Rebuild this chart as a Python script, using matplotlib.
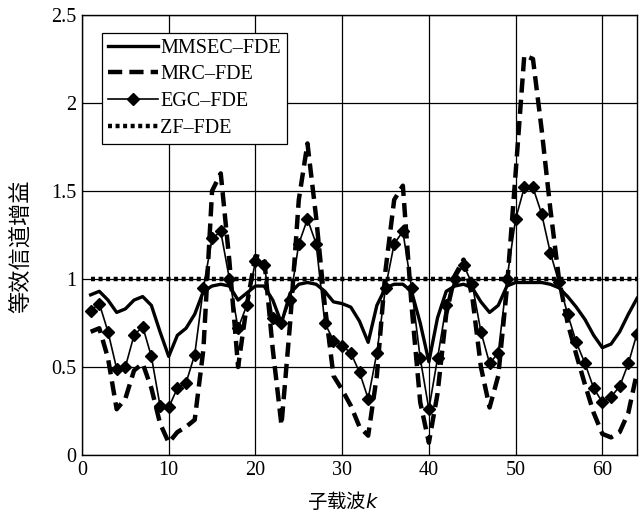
import numpy as np
import matplotlib
matplotlib.use('Agg')
import matplotlib.pyplot as plt
from matplotlib.ticker import FuncFormatter

# subcarrier index
k = np.arange(1, 65)

# equivalent channel gain
mmse = [0.91, 0.93, 0.88, 0.81, 0.83, 0.88, 0.90, 0.85, 0.70, 0.56,
        0.68, 0.72, 0.80, 0.93, 0.96, 0.97, 0.96, 0.88, 0.92, 0.96,
        0.96, 0.88, 0.75, 0.92, 0.97, 0.98, 0.97, 0.93, 0.87, 0.86,
        0.84, 0.76, 0.64, 0.85, 0.95, 0.97, 0.97, 0.93, 0.75, 0.53,
        0.78, 0.93, 0.96, 0.97, 0.95, 0.87, 0.81, 0.85, 0.96, 0.98,
        0.98, 0.98, 0.98, 0.97, 0.95, 0.90, 0.84, 0.77, 0.68, 0.61,
        0.63, 0.70, 0.80, 0.89]
mrc = [0.70, 0.72, 0.55, 0.26, 0.32, 0.48, 0.52, 0.38, 0.18, 0.07,
       0.13, 0.16, 0.20, 0.60, 1.50, 1.60, 1.10, 0.50, 0.85, 1.13,
       1.12, 0.60, 0.17, 0.75, 1.45, 1.77, 1.35, 0.85, 0.45, 0.37,
       0.28, 0.16, 0.11, 0.45, 1.05, 1.45, 1.53, 0.85, 0.30, 0.07,
       0.35, 0.80, 1.02, 1.11, 0.90, 0.50, 0.27, 0.45, 0.95, 1.60,
       2.27, 2.25, 1.85, 1.40, 1.00, 0.75, 0.57, 0.40, 0.24, 0.12,
       0.10, 0.13, 0.24, 0.47]
egc = [0.82, 0.86, 0.70, 0.49, 0.50, 0.68, 0.73, 0.56, 0.28, 0.27,
       0.38, 0.41, 0.57, 0.95, 1.23, 1.27, 1.00, 0.72, 0.85, 1.10,
       1.08, 0.78, 0.75, 0.88, 1.20, 1.34, 1.20, 0.75, 0.65, 0.62,
       0.58, 0.47, 0.32, 0.58, 0.95, 1.20, 1.27, 0.95, 0.55, 0.26,
       0.55, 0.85, 1.00, 1.08, 0.97, 0.70, 0.52, 0.58, 1.00, 1.34,
       1.52, 1.52, 1.37, 1.15, 0.98, 0.80, 0.64, 0.52, 0.38, 0.30,
       0.33, 0.39, 0.52, 0.69]
zf = [1.0] * 64

labels = ['MMSEC\u2013FDE', 'MRC\u2013FDE', 'EGC\u2013FDE', 'ZF\u2013FDE']

plt.rcParams['font.family'] = ['Liberation Serif', 'Noto Sans CJK SC']

fig = plt.figure(figsize=(6.43, 5.15), dpi=100)
ax = fig.add_axes([0.1275, 0.1165, 0.8632, 0.8545])

ax.plot(k, mmse, color='black', lw=2.4, label=labels[0])
ax.plot(k, mrc, color='black', lw=3.2, ls=(0, (3.2, 1.6)), label=labels[1])
ax.plot(k, egc, color='black', lw=1.2, marker='D', ms=6.5, label=labels[2])
ax.plot(k, zf, color='black', lw=3.2, ls=(0, (0.9, 0.8)), label=labels[3])

ax.set_xlim(0, 64)
ax.set_ylim(0, 2.5)
ax.set_xticks(np.arange(0, 61, 10))
ax.set_yticks(np.arange(0, 2.51, 0.5))
ax.yaxis.set_major_formatter(FuncFormatter(lambda v, p: f'{v:g}'))
ax.grid(True, color='black', lw=0.9)
ax.tick_params(direction='in', length=0, labelsize=14.5, pad=4)
for s in ax.spines.values():
    s.set_linewidth(1.0)

ax.set_xlabel('子载波$k$', fontsize=14, family=['Noto Sans CJK SC'])
ax.xaxis.set_label_coords(0.47, -0.082)
ax.set_ylabel('等效信道增益', fontsize=16, family=['Noto Sans CJK SC'])
ax.yaxis.set_label_coords(-0.09, 0.475)

leg = ax.legend(loc='upper left', bbox_to_anchor=(0.036, 0.96), fontsize=14.5,
                handlelength=2.5, handletextpad=0.1, labelspacing=0.38,
                borderpad=0.3, borderaxespad=0, fancybox=False, framealpha=1,
                edgecolor='black')
leg.get_frame().set_linewidth(0.9)

fig.savefig('out.png', dpi=100)
